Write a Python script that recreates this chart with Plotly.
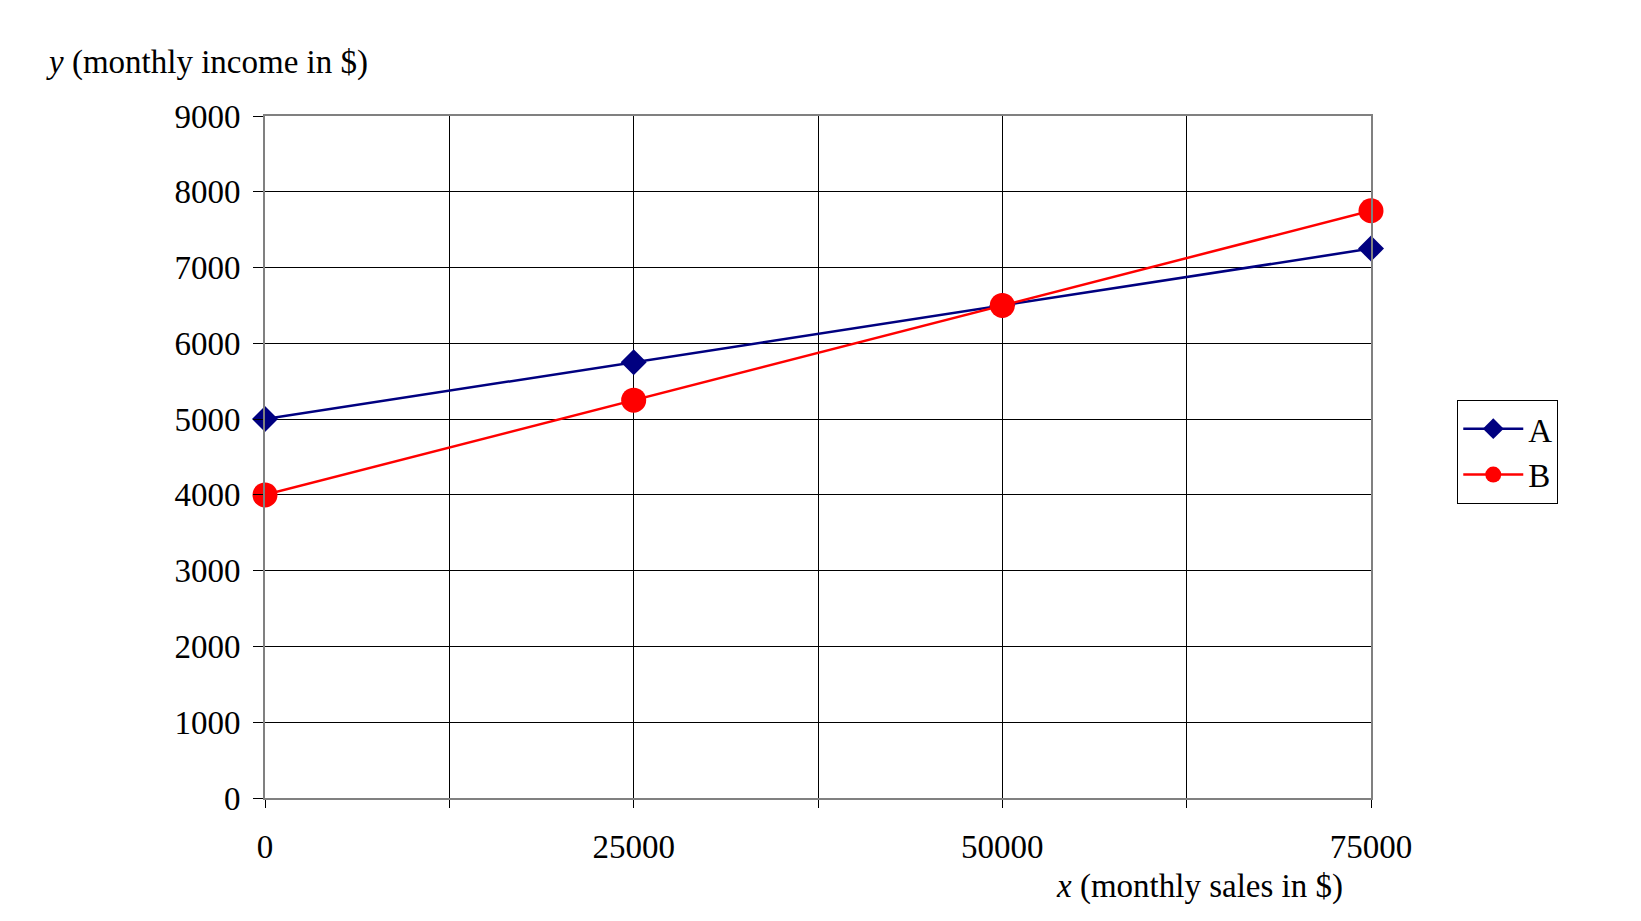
import plotly.graph_objects as go

sales = [0, 25000, 50000, 75000]
income_a = [5000, 5750, 6500, 7250]
income_b = [4000, 5250, 6500, 7750]

x_grid = [0, 12500, 25000, 37500, 50000, 62500, 75000]
x_text = ["0", "", "25000", "", "50000", "", "75000"]

font = dict(family="Liberation Serif", size=33, color="black")

fig = go.Figure()
fig.add_trace(go.Scatter(x=sales, y=income_a, name="A", mode="lines+markers",
                         line=dict(color="#000080", width=2.5), cliponaxis=False,
                         marker=dict(symbol="diamond", size=20, color="#000080")))
fig.add_trace(go.Scatter(x=sales, y=income_b, name="B", mode="lines+markers",
                         line=dict(color="#ff0000", width=2.5), cliponaxis=False,
                         marker=dict(symbol="circle", size=25, color="#ff0000")))

fig.update_layout(
    width=1641, height=921,
    margin=dict(l=257, r=278, t=108, b=131),
    plot_bgcolor="white", paper_bgcolor="white",
    font=font,
    showlegend=True,
    legend=dict(x=1.078, y=0.584, xanchor="left", yanchor="top",
                bordercolor="black", borderwidth=1, font=font,
                tracegroupgap=10, itemwidth=60),
    xaxis=dict(range=[0, 75000], tickvals=x_grid, ticktext=x_text,
               showgrid=True, gridcolor="black", gridwidth=1,
               showline=True, linecolor="#808080", linewidth=2, mirror=True,
               ticks="outside", ticklen=8, tickcolor="black", zeroline=False,
               ticklabelstandoff=10),
    yaxis=dict(range=[0, 9000], dtick=1000,
               showgrid=True, gridcolor="black", gridwidth=1,
               showline=True, linecolor="#808080", linewidth=2, mirror=True,
               ticks="outside", ticklen=10, tickcolor="black", zeroline=False,
               ticklabelstandoff=6),
    annotations=[
        dict(text="<i>y</i> (monthly income in $)", xref="paper", yref="paper",
             x=(35 - 246) / 1057, y=(755 - 52) / 652,
             xanchor="left", yanchor="middle", showarrow=False, font=font),
        dict(text="<i>x</i> (monthly sales in $)", xref="paper", yref="paper",
             x=(1000 - 246) / 1057, y=(755 - 840) / 652,
             xanchor="left", yanchor="middle", showarrow=False, font=font),
    ],
)

fig.write_html("out.html")
